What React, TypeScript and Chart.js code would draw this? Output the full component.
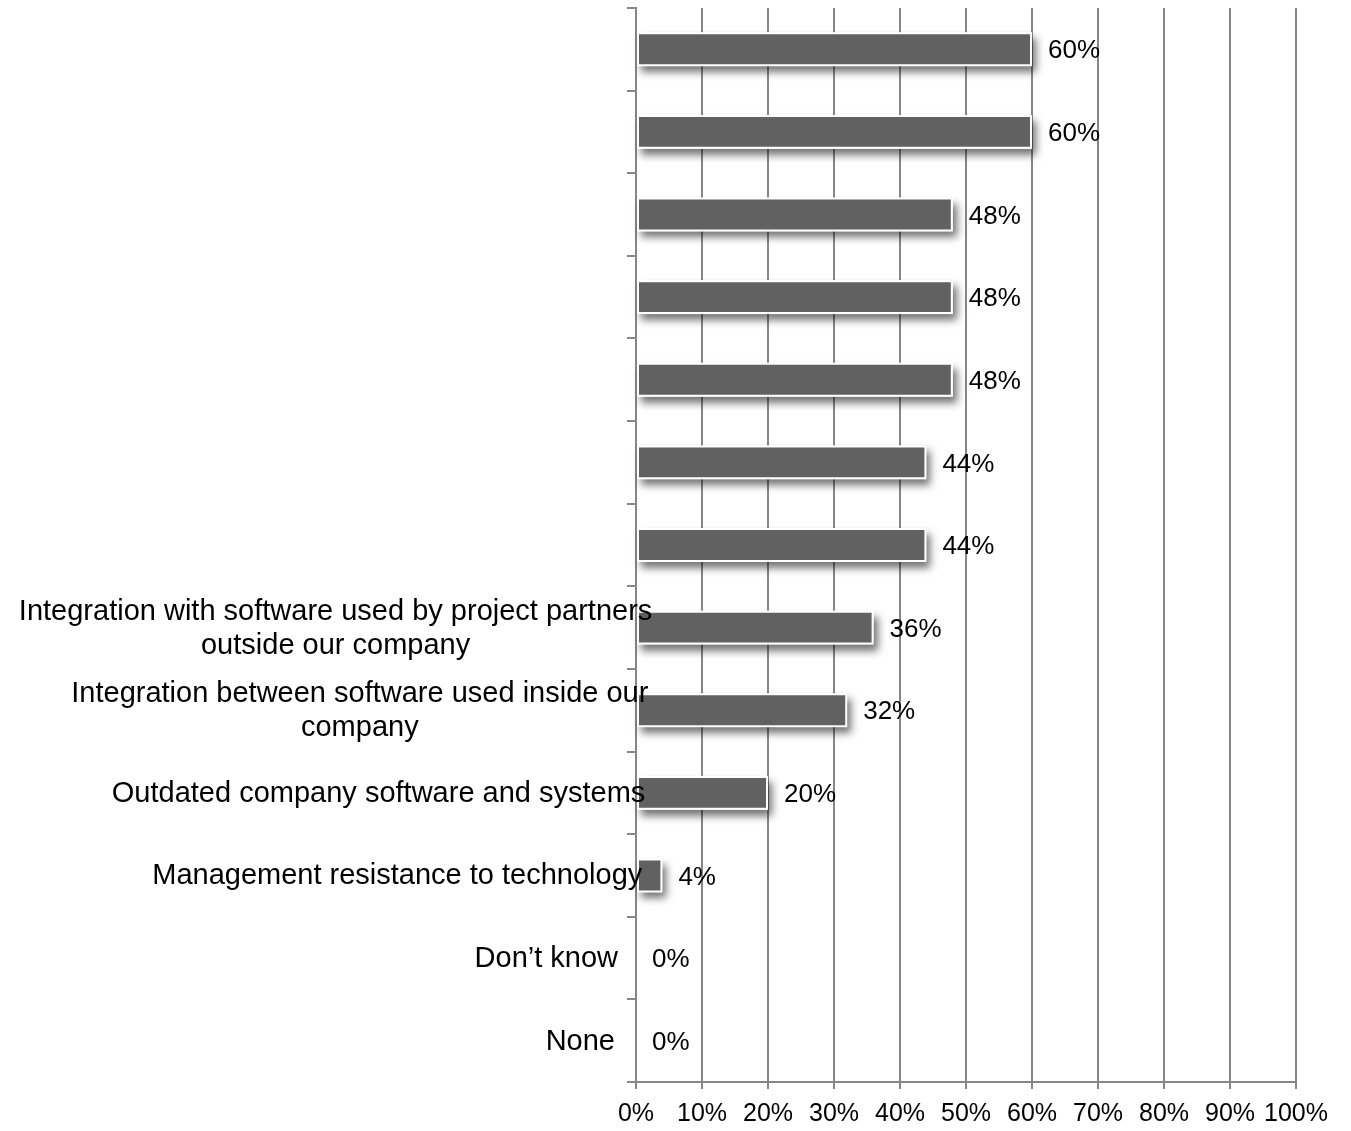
import React, { useEffect, useRef } from 'react';
import { Chart, registerables } from 'chart.js';

Chart.register(...registerables);

// ---- data ----
const categoryLabels: string[][] = [
  [],
  [],
  [],
  [],
  [],
  [],
  [],
  ['Integration with software used by project partners', 'outside our company'],
  ['Integration between software used inside our', 'company'],
  ['Outdated company software and systems'],
  ['Management resistance to technology'],
  ['Don\u2019t know'],
  ['None'],
];
const values: number[] = [60, 60, 48, 48, 48, 44, 44, 36, 32, 20, 4, 0, 0];
const xTickValues: number[] = [0, 10, 20, 30, 40, 50, 60, 70, 80, 90, 100];

const FONT = '"Liberation Sans", Arial, Helvetica, sans-serif';
const GRID = '#878787';

const shadowPlugin = {
  id: 'barShadow',
  beforeDatasetsDraw(chart: any) {
    const ctx = chart.ctx;
    const meta = chart.getDatasetMeta(0);
    ctx.save();
    ctx.shadowColor = 'rgba(0,0,0,0.55)';
    ctx.shadowBlur = 8;
    ctx.shadowOffsetX = 4;
    ctx.shadowOffsetY = 6;
    ctx.fillStyle = '#ffffff';
    meta.data.forEach((el: any) => {
      const { x, y, base, height } = el.getProps(['x', 'y', 'base', 'height'], true);
      const w = x - base;
      if (w <= 0.5) return;
      ctx.fillRect(base, y - height / 2, w, height);
    });
    ctx.restore();
  },
};

const labelPlugin = {
  id: 'labelsDraw',
  afterDatasetsDraw(chart: any) {
    const ctx = chart.ctx;
    const yScale = chart.scales.y;
    const meta = chart.getDatasetMeta(0);
    ctx.save();
    // category labels
    ctx.font = `29px ${FONT}`;
    ctx.fillStyle = '#000000';
    ctx.textBaseline = 'middle';
    ctx.textAlign = 'center';
    categoryLabels.forEach((lines, i) => {
      if (!lines.length) return;
      const cy = yScale.getPixelForValue(i) + 1;
      const widths = lines.map((l) => ctx.measureText(l).width);
      const widest = Math.max(...widths);
      const right = yScale.right - 21 + 0.07 * Math.max(0, widest - 100);
      const cx = right - widest / 2;
      const lh = 34;
      lines.forEach((l, k) => {
        ctx.fillText(l, cx, cy + (k - (lines.length - 1) / 2) * lh);
      });
    });
    // value labels
    ctx.font = `26px ${FONT}`;
    ctx.textAlign = 'left';
    meta.data.forEach((el: any, i: number) => {
      const { x, y } = el.getProps(['x', 'y'], true);
      ctx.fillText(values[i] + '%', x + 16, y + 2);
    });
    ctx.restore();
  },
};

export default function App() {
  const ref = useRef<HTMLCanvasElement | null>(null);

  useEffect(() => {
    if (!ref.current) return;
    const chart = new Chart(ref.current, {
      type: 'bar',
      data: {
        labels: categoryLabels.map((l) => l.join(' ')),
        datasets: [
          {
            data: values,
            backgroundColor: '#616161',
            borderColor: '#ffffff',
            borderWidth: 2,
            borderSkipped: false,
            barPercentage: 0.41,
            categoryPercentage: 1,
          },
        ],
      },
      options: {
        indexAxis: 'y',
        responsive: false,
        maintainAspectRatio: false,
        animation: false,
        layout: { padding: { top: 8, right: 55, left: 0, bottom: 0 } },
        plugins: {
          legend: { display: false },
          tooltip: { enabled: false },
        },
        scales: {
          x: {
            type: 'linear',
            min: 0,
            max: 100,
            afterBuildTicks: (s: any) => {
              s.ticks = xTickValues.map((v) => ({ value: v }));
            },
            ticks: {
              callback: (v: any) => v + '%',
              font: { family: FONT, size: 25 },
              color: '#000000',
              padding: 10,
              maxRotation: 0,
              autoSkip: false,
            },
            grid: { color: GRID, lineWidth: 2, tickLength: 7, drawTicks: true, tickColor: GRID, tickWidth: 2 },
            border: { color: GRID, width: 2 },
            afterFit: (s: any) => {
              s.height = 49;
            },
          },
          y: {
            type: 'category',
            ticks: { display: false },
            grid: {
              drawOnChartArea: false,
              drawTicks: true,
              tickLength: 9,
              color: GRID,
              tickColor: GRID,
              lineWidth: 2,
              tickWidth: 2,
              offset: true,
            },
            border: { color: GRID, width: 2 },
            afterFit: (s: any) => {
              s.width = 636;
            },
          },
        },
      },
      plugins: [shadowPlugin, labelPlugin],
    } as any);
    return () => chart.destroy();
  }, []);

  return (
    <div style={{ position: 'absolute', left: 0, top: 0, width: 1351, height: 1131, background: '#ffffff' }}>
      <canvas ref={ref} width={1351} height={1131} style={{ display: 'block' }} />
    </div>
  );
}
